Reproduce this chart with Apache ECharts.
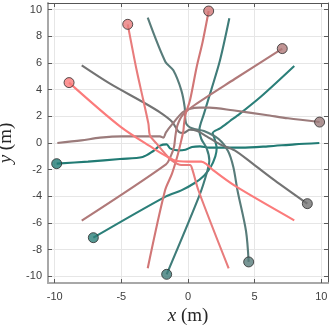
<!DOCTYPE html>
<html>
<head>
<meta charset="utf-8">
<script src="https://cdn.jsdelivr.net/npm/echarts@6/dist/echarts.min.js"></script>
<style>html,body{margin:0;padding:0;background:#fff}#c{width:332px;height:328px}</style>
</head>
<body>
<div id="c"></div>
<script>
// Trajectories (x, y in metres); first point = marked start position
const traj1 = [[-9.85,-1.55],[-7.5,-1.4],[-5.1,-1.2],[-3.4,-1.05],[-2.6,-0.6],[-2.1,-0.2],[-1.6,-0.1],[-1.35,-0.4],[-0.75,-0.55],[-0.2,-0.5],[0.3,-0.3],[0.9,-0.25],[1.6,-0.35],[2.4,-0.35],[4,-0.35],[6,-0.25],[8,-0.1],[9.85,0]];
const traj2 = [[-7.1,-7.1],[-1.65,-4.0],[-0.5,-3.55],[0.5,-3.0],[1.2,-2.45],[1.7,-1.8],[2.05,-1.0],[2.15,-0.4],[2.0,0.3],[1.85,0.75],[2.4,1.1],[3.15,1.65],[3.9,2.2],[5.5,3.5],[7.97,5.77]];
const traj3 = [[-1.6,-9.85],[0.85,-3.95],[1.45,-2.1],[1.6,-1.3],[1.4,-0.4],[1.0,0.3],[0.85,0.95],[1.2,2.2],[1.75,4.0],[2.4,6.2],[3.1,9.35]];
const traj4 = [[4.55,-8.92],[4.35,-6.6],[3.72,-3.6],[3.4,-1.8],[3.0,-0.6],[2.3,0.3],[1.2,0.9],[0.3,1.1],[-0.15,1.5],[-0.25,2.7],[-0.5,3.95],[-1.1,5.45],[-1.7,6.1],[-3.02,9.4]];
const traj5 = [[8.95,-4.55],[6.5,-2.8],[4.85,-1.55],[3.5,-0.55],[2.4,-0.1],[1.4,0.5],[0.7,0.9],[0.15,1.0],[-0.35,0.75],[-0.7,0.85],[-1.2,1.6],[-2.1,2.3],[-3.35,3.05],[-5.85,4.45],[-7.97,5.82]];
const traj6 = [[9.87,1.57],[7.5,1.85],[5.85,2.1],[3.35,2.45],[1.6,2.65],[0.85,2.65],[0.1,2.55],[-0.4,2.3],[-1.15,1.45],[-1.65,0.8],[-1.85,0.4],[-2.1,0.5],[-3.1,0.5],[-5,0.5],[-6.6,0.4],[-8,0.2],[-9.8,0.0]];
const traj7 = [[7.07,7.08],[3.5,4.8],[0.5,2.85],[-0.4,2.1],[-0.8,1.3],[-0.95,0.5],[-1.05,-0.3],[-1.3,-1.0],[-1.65,-1.6],[-7.97,-5.82]];
const traj8 = [[1.55,9.9],[1.1,7.6],[0.65,5.7],[0.15,3.2],[-0.2,2.1],[-0.3,1.4],[-0.35,0.9],[-0.55,0.0],[-0.8,-1.0],[-1.2,-2.3],[-1.72,-3.55],[-3.02,-9.4]];
const traj9 = [[-4.52,8.9],[-3.85,5.45],[-3.35,3.2],[-2.97,1.45],[-2.85,0.55],[-2.35,-0.05],[-1.72,-0.8],[-1.22,-1.3],[-0.5,-1.65],[0.15,-1.65],[0.3,-1.9],[0.8,-3.6],[3.05,-9.4]];
const traj10 = [[-8.92,4.53],[-5.1,1.25],[-2.6,-0.4],[-1.6,-1.0],[-0.85,-1.35],[0.4,-1.4],[1.0,-1.4],[1.4,-1.6],[1.9,-2.05],[3.5,-3.2],[7.97,-5.8]];

const trajectories = [traj1,traj2,traj3,traj4,traj5,traj6,traj7,traj8,traj9,traj10];
const colors = ['#217b74','#2b7f79','#3f7c79','#587c7a','#737373','#9b7b7b','#b07979','#d17676','#e87c7c','#fb7b7b'];

const xTicks = [-10,-5,0,5,10];
const yTicks = [-10,-8,-6,-4,-2,0,2,4,6,8,10];

const chart = echarts.init(document.getElementById('c'), null, {renderer:'canvas'});

const labelFont = {color:'#404040', fontSize:11, fontFamily:'Liberation Sans, Arial, sans-serif'};
const nameStyle = {
  color:'#262626', fontSize:19, fontFamily:'Liberation Serif, serif',
  rich:{ i:{fontStyle:'italic', fontSize:19, fontFamily:'Liberation Serif, serif', color:'#262626'},
         n:{fontSize:19, fontFamily:'Liberation Serif, serif', color:'#262626'} }
};

const series = trajectories.map((t,i)=>({
  type:'line', data:t, showSymbol:false, smooth:0.3, z:2+i,
  lineStyle:{color:colors[i], width:2.1}, silent:true, animation:false
}));
series.push({
  type:'scatter', z:20, symbolSize:10, animation:false,
  data: trajectories.map((t,i)=>({value:t[0], itemStyle:{color:colors[i], borderColor:'#2d2d2d', borderWidth:1}}))
});

chart.setOption({
  animation:false,
  grid:{left:48, right:4, top:3, bottom:45, containLabel:false, outerBoundsMode:'none'},
  xAxis:[
    {type:'value', position:'bottom', min:-10.5, max:10.5,
     axisLine:{onZero:false, lineStyle:{color:'#a8a8a8', width:2}},
     axisTick:{inside:true, length:4, customValues:xTicks, lineStyle:{color:'#5a5a5a'}},
     axisLabel:Object.assign({customValues:xTicks, margin:8}, labelFont),
     splitLine:{show:true, lineStyle:{color:'#e6e6e6', width:1}},
     name:'{i|x}{n| (m)}', nameLocation:'middle', nameGap:20, nameTextStyle:nameStyle},
    {type:'value', position:'top', min:-10.5, max:10.5,
     axisLine:{onZero:false, lineStyle:{color:'#555', width:1}},
     axisTick:{inside:true, length:4, customValues:xTicks, lineStyle:{color:'#5a5a5a'}},
     axisLabel:{show:false}, splitLine:{show:false}}
  ],
  yAxis:[
    {type:'value', position:'left', min:-10.5, max:10.5,
     axisLine:{onZero:false, lineStyle:{color:'#a8a8a8', width:2}},
     axisTick:{inside:true, length:4, customValues:yTicks, lineStyle:{color:'#5a5a5a'}},
     axisLabel:Object.assign({customValues:yTicks, margin:6}, labelFont),
     splitLine:{show:true, lineStyle:{color:'#e6e6e6', width:1}},
     name:'{i|y}{n| (m)}', nameLocation:'middle', nameGap:22, nameTextStyle:nameStyle},
    {type:'value', position:'right', min:-10.5, max:10.5,
     axisLine:{onZero:false, lineStyle:{color:'#555', width:1}},
     axisTick:{inside:true, length:4, customValues:yTicks, lineStyle:{color:'#5a5a5a'}},
     axisLabel:{show:false}, splitLine:{show:false}}
  ],
  series: series
});
</script>
</body>
</html>
